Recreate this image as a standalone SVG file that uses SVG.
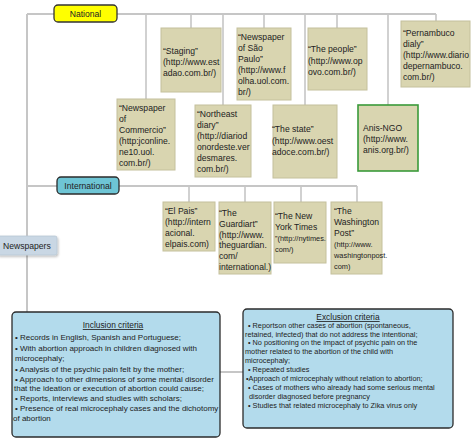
<svg xmlns="http://www.w3.org/2000/svg" width="472" height="440" viewBox="0 0 472 440">
<defs>
<style>
.t{font-family:"Liberation Sans",Arial,sans-serif;font-size:8.6px;fill:#222}
.s{font-size:7.4px}
.c{font-family:"Liberation Sans",Arial,sans-serif;font-size:8px;fill:#222}
.e{font-size:7.3px}
.h{font-family:"Liberation Sans",Arial,sans-serif;font-size:8.4px;fill:#222;text-anchor:middle;text-decoration:underline}
.box{fill:#d9d5b0;stroke:#c4c09c;stroke-width:1}
.ln{stroke:#c6c6c6;stroke-width:2;fill:none}
.dr{stroke:#c6c6c6;stroke-width:1.6;fill:none}
.crit{fill:#b3dbec;stroke:#2b2b2b;stroke-width:1.3}
</style>
<filter id="sh" x="-10%" y="-20%" width="130%" height="150%"><feDropShadow dx="1" dy="1.5" stdDeviation="1" flood-color="#000" flood-opacity="0.25"/></filter>
</defs>
<rect width="472" height="440" fill="#fff"/>
<g id="connectors">
<path class="ln" d="M27 14H436M27 14V312M27 186H357M220 372H243"/>
<path class="dr" d="M146 14V99M191 14V28M223 14V105M264 14V28M305 14V105M337 14V28M388 14V105M436 14V21"/>
<path class="dr" d="M189 186V202M245 186V202M301 186V202M357 186V202"/>
</g>
<g id="national">
<rect x="54" y="5" width="63" height="17" rx="4" fill="#ffff00" stroke="#333" stroke-width="1.3"/>
<text class="t" x="85.5" y="16.5" text-anchor="middle">National</text>
</g>
<g id="staging">
<rect class="box" x="161" y="28" width="60" height="64"/>
<text class="t" x="163"><tspan x="163" y="54">“Staging”</tspan><tspan x="163" y="65">(http://www.est</tspan><tspan x="163" y="76">adao.com.br/)</tspan></text>
</g>
<g id="commercio">
<rect class="box" x="117" y="99" width="58" height="71"/>
<text class="t"><tspan x="119" y="111">“Newspaper</tspan><tspan x="119" y="122">of</tspan><tspan x="119" y="133">Commercio”</tspan><tspan x="119" y="144">(http:jconline.</tspan><tspan x="119" y="155">ne10.uol.</tspan><tspan x="119" y="166">com.br/)</tspan></text>
</g>
<g id="northeast">
<rect class="box" x="195" y="105" width="56" height="72"/>
<text class="t"><tspan x="197" y="117">“Northeast</tspan><tspan x="197" y="128">diary”</tspan><tspan x="197" y="139">(http://diariod</tspan><tspan x="197" y="150">onordeste.ver</tspan><tspan x="197" y="161">desmares.</tspan><tspan x="197" y="172">com.br/)</tspan></text>
</g>
<g id="saopaulo">
<rect class="box" x="237" y="28" width="54" height="72"/>
<text class="t"><tspan x="238" y="40">“Newspaper</tspan><tspan x="238" y="51">of São</tspan><tspan x="238" y="62">Paulo”</tspan><tspan x="238" y="73">(http://www.f</tspan><tspan x="238" y="84">olha.uol.com.</tspan><tspan x="238" y="95">br/)</tspan></text>
</g>
<g id="people">
<rect class="box" x="308" y="28" width="59" height="62"/>
<text class="t"><tspan x="308" y="52">“The people”</tspan><tspan x="308" y="64">(http://www.op</tspan><tspan x="308" y="75">ovo.com.br/)</tspan></text>
</g>
<g id="state">
<rect class="box" x="273" y="105" width="64" height="73"/>
<text class="t"><tspan x="272" y="132">“The state”</tspan><tspan x="272" y="144">(http://www.oest</tspan><tspan x="272" y="155">adoce.com.br/)</tspan></text>
</g>
<g id="anis">
<rect x="358" y="105" width="60" height="66" fill="#d9d5b0" stroke="#3a9a3a" stroke-width="1.6"/>
<text class="t"><tspan x="363" y="131">Anis-NGO</tspan><tspan x="363" y="142">(http://www.</tspan><tspan x="363" y="153">anis.org.br/)</tspan></text>
</g>
<g id="pernambuco">
<rect class="box" x="401" y="21" width="69" height="66"/>
<text class="t"><tspan x="403" y="36">“Pernambuco</tspan><tspan x="403" y="47">dialy”</tspan><tspan x="403" y="58">(http://www.diario</tspan><tspan x="403" y="69">depernambuco.</tspan><tspan x="403" y="80">com.br/)</tspan></text>
</g>
<g id="international">
<rect x="57" y="177" width="62" height="17" rx="4" fill="#6ec5d5" stroke="#2b2b2b" stroke-width="1.3"/>
<text class="t" x="88" y="188.5" text-anchor="middle">International</text>
</g>
<g id="elpais">
<rect class="box" x="163" y="202" width="52" height="49"/>
<text class="t"><tspan x="165" y="214">“El Pais”</tspan><tspan x="165" y="225">(http://intern</tspan><tspan x="165" y="236">acional.</tspan><tspan x="165" y="247">elpais.com)</tspan></text>
</g>
<g id="guardian">
<rect class="box" x="219" y="202" width="52" height="72"/>
<text class="t"><tspan x="219" y="216">“The</tspan><tspan x="219" y="227">Guardiart”</tspan><tspan x="219" y="238">(http://www.</tspan><tspan x="219" y="248">theguardian.</tspan><tspan x="219" y="259">com/</tspan><tspan x="219" y="270">international.)</tspan></text>
</g>
<g id="nytimes">
<rect class="box" x="274" y="202" width="52" height="61"/>
<text class="t"><tspan x="275" y="219">“The New</tspan><tspan x="275" y="230">York Times</tspan><tspan class="s" x="275" y="241">”(http://nytimes.</tspan><tspan class="s" x="275" y="252">com/)</tspan></text>
</g>
<g id="washington">
<rect class="box" x="331" y="202" width="51" height="72"/>
<text class="t"><tspan x="334" y="214">“The</tspan><tspan x="334" y="225">Washington</tspan><tspan x="334" y="236">Post”</tspan><tspan class="s" x="334" y="247">(http://www.</tspan><tspan class="s" x="334" y="258">washingtonpost.</tspan><tspan class="s" x="334" y="269">com)</tspan></text>
</g>
<g id="newspapers">
<rect x="-3" y="236" width="60" height="19" rx="2" fill="#c9d7e4" stroke="#b8c6d3" stroke-width="0.8" filter="url(#sh)"/>
<text class="t" x="3" y="249">Newspapers</text>
</g>
<g id="inclusion">
<rect class="crit" x="12" y="312" width="208" height="125" rx="4"/>
<text class="h" x="113" y="328">Inclusion criteria</text>
<text class="c"><tspan x="15" y="340">• Records in English, Spanish and Portuguese;</tspan><tspan x="15" y="351">•    With abortion approach in children diagnosed with</tspan><tspan x="15" y="361">microcephaly;</tspan><tspan x="15" y="372">• Analysis of the psychic pain felt by the mother;</tspan><tspan x="15" y="382">•  Approach to other dimensions of some mental disorder</tspan><tspan x="14" y="391">that the ideation or execution of abortion could cause;</tspan><tspan x="15" y="401">• Reports, interviews and studies with scholars;</tspan><tspan x="15" y="411">•  Presence of real microcephaly cases and the dichotomy</tspan><tspan x="13" y="421">of abortion</tspan></text>
</g>
<g id="exclusion">
<rect class="crit" x="243" y="309" width="210" height="119" rx="4"/>
<text class="h" x="348" y="320">Exclusion criteria</text>
<text class="c e"><tspan x="248" y="328">•   Reportson other cases of abortion (spontaneous,</tspan><tspan x="245" y="337">retained, infected) that do not address the intentional;</tspan><tspan x="248" y="345">•  No positioning on the impact of psychic pain on the</tspan><tspan x="245" y="354">mother related to the abortion of the child with</tspan><tspan x="245" y="363">microcephaly;</tspan><tspan x="248" y="372">• Repeated studies</tspan><tspan x="246" y="381">•Approach of microcephaly without relation to abortion;</tspan><tspan x="248" y="390">• Cases of mothers who already had some serious mental</tspan><tspan x="249" y="399">disorder diagnosed before pregnancy</tspan><tspan x="248" y="408">• Studies that related microcephaly to Zika virus only</tspan></text>
</g>
</svg>
